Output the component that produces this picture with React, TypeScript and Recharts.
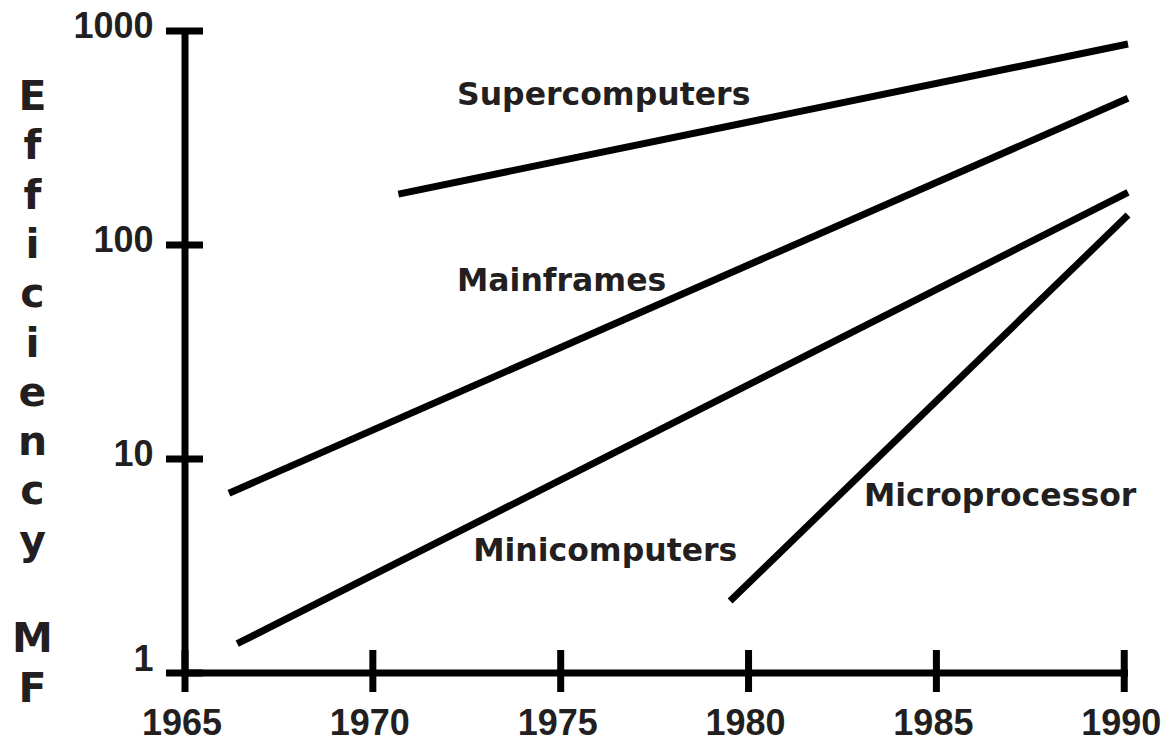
import { LineChart, Line, XAxis, YAxis, ReferenceDot } from "recharts";

const years = [1965, 1970, 1975, 1980, 1985, 1990];
const efficiencyTicks = [1, 10, 100, 1000];
const axisTitle = "Efficiency MF";

const seriesNames = ["Supercomputers", "Mainframes", "Minicomputers", "Microprocessor"];

const supercomputers = [
  { year: 1970.68, value: 173 },
  { year: 1990.1, value: 869 },
];
const mainframes = [
  { year: 1966.17, value: 6.92 },
  { year: 1990.1, value: 485 },
];
const minicomputers = [
  { year: 1966.39, value: 1.37 },
  { year: 1990.1, value: 176 },
];
const microprocessor = [
  { year: 1979.51, value: 2.17 },
  { year: 1990.1, value: 138 },
];

// where each series name sits (year, value at the text baseline)
const labelYears = [1972.24, 1972.24, 1972.67, 1983.07];
const labelValues = [451, 61, 3.34, 6.03];

const seriesData = [supercomputers, mainframes, minicomputers, microprocessor];

const INK = "#231f20";

function XTick(props: any) {
  const { x, y, payload } = props;
  return (
    <g>
      <line x1={x} x2={x} y1={y - 23} y2={y + 19} stroke="#000" strokeWidth={7} />
      <text
        x={x - 3}
        y={y + 62}
        textAnchor="middle"
        fontFamily="Liberation Sans"
        fontWeight="bold"
        fontSize={36}
        fill={INK}
      >
        {payload.value}
      </text>
    </g>
  );
}

function YTick(props: any) {
  const { x, y, payload } = props;
  const dy = payload.value === 1 ? -2 : 6.5;
  return (
    <g>
      <line x1={x - 19} x2={x + 18} y1={y} y2={y} stroke="#000" strokeWidth={7} />
      <text
        x={x - 31.5}
        y={y + dy}
        textAnchor="end"
        fontFamily="Liberation Sans"
        fontWeight="bold"
        fontSize={36}
        fill={INK}
      >
        {payload.value}
      </text>
    </g>
  );
}

function StackedTitle(props: any) {
  const { viewBox } = props;
  const cx = viewBox.x + 32.5;
  return (
    <text fontFamily="DejaVu Sans" fontWeight="bold" fontSize={41} fill={INK} textAnchor="middle">
      {axisTitle.split("").map((ch, i) => (
        <tspan key={i} x={cx} y={110 + i * 49.3}>
          {ch === " " ? "\u00a0" : ch}
        </tspan>
      ))}
    </text>
  );
}

function SeriesLabel(props: any) {
  const { viewBox, caption } = props;
  return (
    <text
      x={viewBox.x}
      y={viewBox.y}
      fontFamily="DejaVu Sans"
      fontWeight="bold"
      fontSize={31.5}
      fill={INK}
    >
      {caption}
    </text>
  );
}

export default function App() {
  return (
    <div style={{ position: "absolute", left: 0, top: 0, background: "#fff" }}>
      <LineChart width={1161} height={742} margin={{ top: 31, right: 33, bottom: 0, left: 0 }}>
        <XAxis
          type="number"
          dataKey="year"
          domain={[1965, 1990.1]}
          ticks={years}
          interval={0}
          height={69}
          tickSize={0}
          tickMargin={0}
          tickLine={false}
          axisLine={{ stroke: "#000", strokeWidth: 7 }}
          tick={<XTick />}
        />
        <YAxis
          type="number"
          dataKey="value"
          scale="log"
          domain={[1, 1000]}
          ticks={efficiencyTicks}
          interval={0}
          width={185}
          tickSize={0}
          tickMargin={0}
          tickLine={false}
          axisLine={{ stroke: "#000", strokeWidth: 7 }}
          tick={<YTick />}
          label={<StackedTitle />}
        />
        {seriesData.map((d, i) => (
          <Line
            key={seriesNames[i]}
            data={d}
            dataKey="value"
            type="linear"
            stroke="#000"
            strokeWidth={7}
            dot={false}
            activeDot={false}
            isAnimationActive={false}
          />
        ))}
        {seriesNames.map((name, i) => (
          <ReferenceDot
            key={name}
            x={labelYears[i]}
            y={labelValues[i]}
            r={0}
            fill="none"
            stroke="none"
            label={<SeriesLabel caption={name} />}
          />
        ))}
      </LineChart>
    </div>
  );
}
